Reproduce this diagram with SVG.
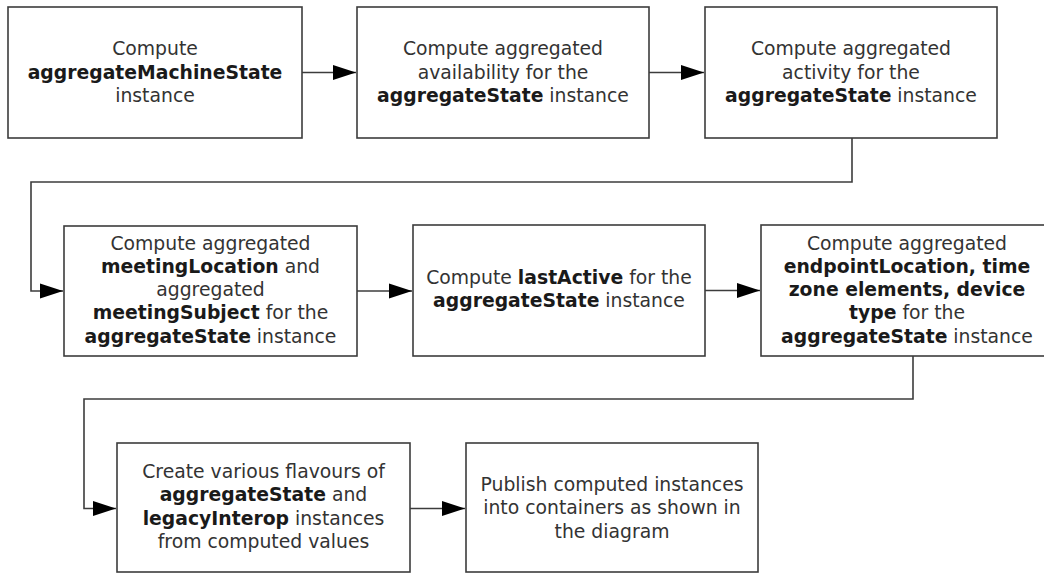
<svg xmlns="http://www.w3.org/2000/svg" width="1044" height="573" viewBox="0 0 1044 573">
  <style>
    .box { fill: #ffffff; stroke: #3c3c3c; stroke-width: 1.6; }
    .t { font-family: "DejaVu Sans", Verdana, sans-serif; font-size: 18.8px; fill: #333333; text-anchor: middle; }
    .b { font-weight: bold; fill: #1a1a1a; }
    .conn { fill: none; stroke: #3c3c3c; stroke-width: 1.6; marker-end: url(#arrow); }
  </style>
  <defs>
    <marker id="arrow" markerUnits="userSpaceOnUse" markerWidth="24" markerHeight="16" refX="23" refY="8" orient="auto">
      <path d="M0,0.5 L23,8 L0,15.5 z" fill="#000000"/>
    </marker>
  </defs>
  <rect width="1044" height="573" fill="#ffffff"/>

  <g id="connectors">
    <path class="conn" d="M302,72.5 L356,72.5"/>
    <path class="conn" d="M649,72.5 L704,72.5"/>
    <path class="conn" d="M852,138 L852,182 L31,182 L31,291 L63,291"/>
    <path class="conn" d="M357,291 L412,291"/>
    <path class="conn" d="M705,290.5 L760,290.5"/>
    <path class="conn" d="M913,356 L913,399 L84,399 L84,508.5 L116,508.5"/>
    <path class="conn" d="M410,508.5 L465,508.5"/>
  </g>

  <g id="node1">
    <rect class="box" x="8" y="7" width="294" height="131"/>
    <text class="t" x="155" y="55">Compute</text>
    <text class="t" x="155" y="78.5"><tspan class="b">aggregateMachineState</tspan></text>
    <text class="t" x="155" y="101.8">instance</text>
  </g>

  <g id="node2">
    <rect class="box" x="357" y="7" width="292" height="131"/>
    <text class="t" x="503" y="55">Compute aggregated</text>
    <text class="t" x="503" y="78.5">availability for the</text>
    <text class="t" x="503" y="101.8"><tspan class="b">aggregateState</tspan> instance</text>
  </g>

  <g id="node3">
    <rect class="box" x="705" y="7" width="292" height="131"/>
    <text class="t" x="851" y="55">Compute aggregated</text>
    <text class="t" x="851" y="78.5">activity for the</text>
    <text class="t" x="851" y="101.8"><tspan class="b">aggregateState</tspan> instance</text>
  </g>

  <g id="node4">
    <rect class="box" x="64" y="226" width="293" height="130"/>
    <text class="t" x="210.5" y="249.5">Compute aggregated</text>
    <text class="t" x="210.5" y="272.8"><tspan class="b">meetingLocation</tspan> and</text>
    <text class="t" x="210.5" y="296.1">aggregated</text>
    <text class="t" x="210.5" y="319.4"><tspan class="b">meetingSubject</tspan> for the</text>
    <text class="t" x="210.5" y="342.7"><tspan class="b">aggregateState</tspan> instance</text>
  </g>

  <g id="node5">
    <rect class="box" x="413" y="225" width="292" height="131"/>
    <text class="t" x="559" y="284">Compute <tspan class="b">lastActive</tspan> for the</text>
    <text class="t" x="559" y="307.3"><tspan class="b">aggregateState</tspan> instance</text>
  </g>

  <g id="node6">
    <rect class="box" x="761" y="225" width="292" height="131"/>
    <text class="t" x="907" y="249.5">Compute aggregated</text>
    <text class="t" x="907" y="272.8"><tspan class="b">endpointLocation, time</tspan></text>
    <text class="t" x="907" y="296.1"><tspan class="b">zone elements, device</tspan></text>
    <text class="t" x="907" y="319.4"><tspan class="b">type</tspan> for the</text>
    <text class="t" x="907" y="342.7"><tspan class="b">aggregateState</tspan> instance</text>
  </g>

  <g id="node7">
    <rect class="box" x="117" y="443" width="293" height="129"/>
    <text class="t" x="263.5" y="478">Create various flavours of</text>
    <text class="t" x="263.5" y="501.3"><tspan class="b">aggregateState</tspan> and</text>
    <text class="t" x="263.5" y="524.6"><tspan class="b">legacyInterop</tspan> instances</text>
    <text class="t" x="263.5" y="547.9">from computed values</text>
  </g>

  <g id="node8">
    <rect class="box" x="466" y="443" width="292" height="129"/>
    <text class="t" x="612" y="491">Publish computed instances</text>
    <text class="t" x="612" y="514.3">into containers as shown in</text>
    <text class="t" x="612" y="537.6">the diagram</text>
  </g>
</svg>
